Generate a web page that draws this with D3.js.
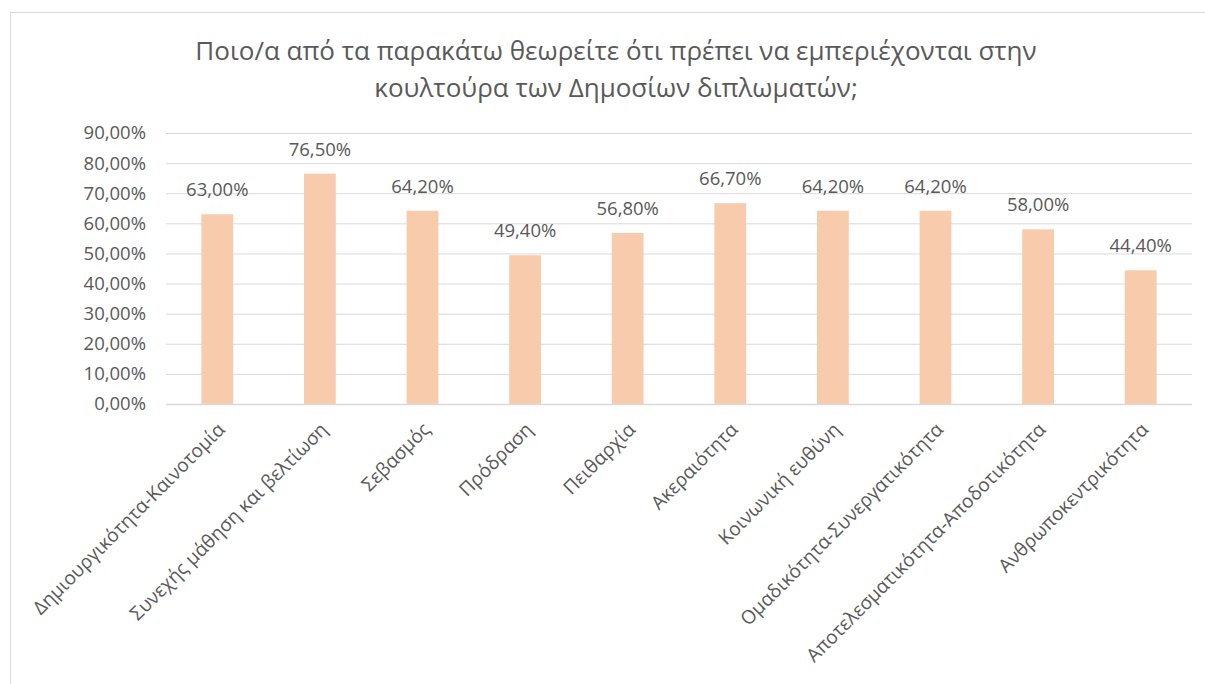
<!DOCTYPE html>
<html>
<head>
<meta charset="utf-8">
<script src="https://cdn.jsdelivr.net/npm/d3@7"></script>
<style>
  body { margin: 0; background: #fff; }
  text { font-family: "Open Sans", sans-serif; fill: #595959; }
</style>
</head>
<body>
<div id="chart"></div>
<script>
// data
var categories = [
  "Δημιουργικότητα-Καινοτομία",
  "Συνεχής μάθηση και βελτίωση",
  "Σεβασμός",
  "Πρόδραση",
  "Πειθαρχία",
  "Ακεραιότητα",
  "Κοινωνική ευθύνη",
  "Ομαδικότητα-Συνεργατικότητα",
  "Αποτελεσματικότητα-Αποδοτικότητα",
  "Ανθρωποκεντρικότητα"
];
var values = [63.0, 76.5, 64.2, 49.4, 56.8, 66.7, 64.2, 64.2, 58.0, 44.4];
var yTicks = [0, 10, 20, 30, 40, 50, 60, 70, 80, 90];
var titleLines = [
  "Ποιο/α από τα παρακάτω θεωρείτε ότι πρέπει να εμπεριέχονται στην",
  "κουλτούρα των Δημοσίων διπλωματών;"
];

var W = 1205, H = 684;
var margin = { top: 133, left: 166, right: 13, bottom: 280 };
var width = W - margin.left - margin.right;
var height = 404 - margin.top;

var fmt = function (v) { return v.toFixed(2).replace(".", ",") + "%"; };

var svg = d3.select("#chart")
  .append("svg")
  .attr("width", W)
  .attr("height", H);

// chart frame (cut by the window on the right and bottom)
svg.append("rect")
  .attr("x", 10.5).attr("y", 12.5)
  .attr("width", 1220).attr("height", 700)
  .attr("fill", "none")
  .attr("stroke", "#d9d9d9");

// title
svg.append("g")
  .selectAll("text")
  .data(titleLines)
  .join("text")
  .attr("x", 616)
  .attr("y", function (d, i) { return 60 + i * 37; })
  .attr("text-anchor", "middle")
  .style("font-size", "26px")
  .text(function (d) { return d; });

var g = svg.append("g")
  .attr("transform", "translate(" + margin.left + "," + margin.top + ")");

var x = d3.scaleBand()
  .domain(categories)
  .range([0, width])
  .paddingInner(0.69)
  .paddingOuter(0.345);

var y = d3.scaleLinear()
  .domain([0, 90])
  .range([height, 0]);

// Y axis with gridlines
var yAxis = g.append("g")
  .call(d3.axisLeft(y).tickValues(yTicks).tickSize(-width).tickPadding(20)
    .tickFormat(function (d) { return fmt(d); }));
yAxis.select(".domain").remove();
yAxis.selectAll(".tick line").attr("stroke", "#d9d9d9");
yAxis.selectAll(".tick text")
  .style("font-size", "18.5px")
  .style("font-family", "'Open Sans', sans-serif")
  .attr("fill", "#595959");

// bars
g.append("g")
  .selectAll("rect")
  .data(values)
  .join("rect")
  .attr("x", function (d, i) { return x(categories[i]); })
  .attr("y", function (d) { return y(d); })
  .attr("width", x.bandwidth())
  .attr("height", function (d) { return height - y(d); })
  .attr("fill", "#f8cbad");

// baseline
g.append("line")
  .attr("x1", 0).attr("x2", width)
  .attr("y1", height + 0.5).attr("y2", height + 0.5)
  .attr("stroke", "#d9d9d9")
  .attr("stroke-width", 1.5);

// value labels
g.append("g")
  .selectAll("text")
  .data(values)
  .join("text")
  .attr("x", function (d, i) { return x(categories[i]) + x.bandwidth() / 2; })
  .attr("y", function (d) { return y(d) - 18; })
  .attr("text-anchor", "middle")
  .style("font-size", "18.5px")
  .text(function (d) { return fmt(d); });

// category labels, rotated
g.append("g")
  .selectAll("text")
  .data(categories)
  .join("text")
  .attr("transform", function (d) {
    var cx = x(d) + x.bandwidth() / 2 + 4;
    return "translate(" + cx + "," + (height + 22) + ")rotate(-45)";
  })
  .attr("text-anchor", "end")
  .attr("dy", "0.35em")
  .style("font-size", "19px")
  .text(function (d) { return d; });
</script>
</body>
</html>
